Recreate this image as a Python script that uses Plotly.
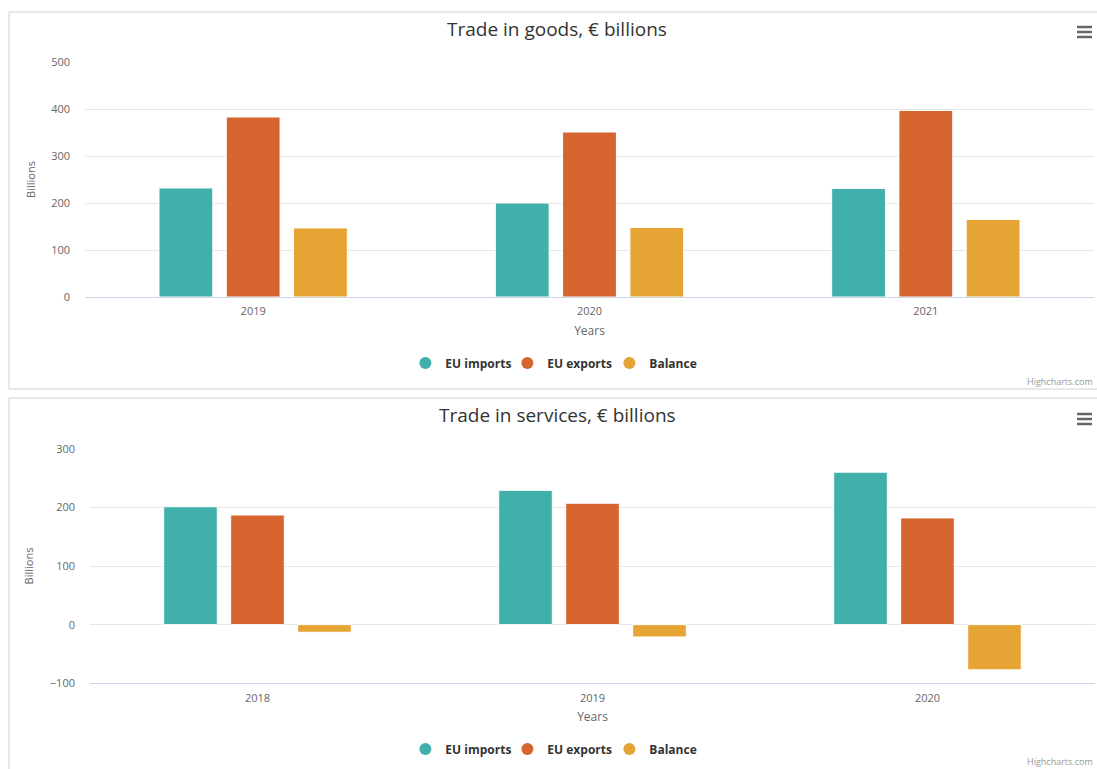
import plotly.graph_objects as go

# ---- data ----
series_names = ["EU imports", "EU exports", "Balance"]
series_colors = ["#41B0AA", "#D6642E", "#E6A434"]

goods_years = ["2019", "2020", "2021"]
goods_imports = [232, 200, 231]
goods_exports = [383, 351, 397]
goods_balance = [147, 148, 165]

services_years = ["2018", "2019", "2020"]
services_imports = [201, 229, 260]
services_exports = [187, 207, 182]
services_balance = [-13, -21, -77]

goods_title = "Trade in goods, € billions"
services_title = "Trade in services, € billions"
y_title = "Billions"
x_title = "Years"
credit = "Highcharts.com"

W, H = 1097, 769
FONT = "Open Sans"


def px(x):
    return x / W


def py(y):
    return 1 - y / H


fig = go.Figure()

goods = [goods_imports, goods_exports, goods_balance]
services = [services_imports, services_exports, services_balance]

for name, color, vals in zip(series_names, series_colors, goods):
    fig.add_trace(go.Bar(x=goods_years, y=vals, name=name, marker_color=color,
                         marker_line_color="white", marker_line_width=1,
                         xaxis="x", yaxis="y", showlegend=False))
for name, color, vals in zip(series_names, series_colors, services):
    fig.add_trace(go.Bar(x=services_years, y=vals, name=name, marker_color=color,
                         marker_line_color="white", marker_line_width=1,
                         xaxis="x2", yaxis="y2", showlegend=False))

# legend entries with round symbols
for lg in ["legend", "legend2"]:
    for name, color in zip(series_names, series_colors):
        fig.add_trace(go.Scatter(x=[None], y=[None], mode="markers", name=name,
                                 marker=dict(color=color, size=12, symbol="circle"),
                                 legend=lg, showlegend=True,
                                 xaxis="x" if lg == "legend" else "x2",
                                 yaxis="y" if lg == "legend" else "y2"))

axis_common_x = dict(showgrid=False, showline=True, linecolor="#ccd6eb", linewidth=1,
                     ticks="", tickfont=dict(family=FONT, size=11, color="#666666"),
                     ticklabelstandoff=4,
                     fixedrange=True, automargin=False,
                     title_font=dict(family=FONT, size=12, color="#666666"))
axis_common_y = dict(showgrid=True, gridcolor="#e6e6e6", gridwidth=1, zeroline=False,
                     showline=False, ticks="", dtick=100,
                     tickfont=dict(family=FONT, size=11, color="#666666"),
                     ticklabelstandoff=14, automargin=False,
                     title_font=dict(family=FONT, size=11, color="#666666"))

legend_common = dict(orientation="h", xanchor="center", yanchor="middle",
                     font=dict(family=FONT, size=12, color="#333333", weight="bold"),
                     itemwidth=30, entrywidth=57, bgcolor="rgba(0,0,0,0)",
                     itemclick=False, itemdoubleclick=False)

fig.update_layout(
    width=W, height=H,
    margin=dict(l=0, r=0, t=0, b=0),
    paper_bgcolor="white", plot_bgcolor="white",
    barmode="group", bargap=0.4, bargroupgap=0.2,
    xaxis=dict(domain=[px(85), px(1094)], anchor="y", type="category",
               title=dict(text=x_title, standoff=9), **axis_common_x),
    yaxis=dict(domain=[py(297), py(62)], anchor="x", range=[0, 500],
               title=dict(text=y_title, standoff=13), **axis_common_y),
    xaxis2=dict(domain=[px(90), px(1095)], anchor="y2", type="category",
                title=dict(text=x_title, standoff=9), **axis_common_x),
    yaxis2=dict(domain=[py(683.3), py(448.7)], anchor="x2", range=[-100, 300],
                title=dict(text=y_title, standoff=13), **axis_common_y),
    legend=dict(x=0.509, y=py(363), **legend_common),
    legend2=dict(x=0.509, y=py(749), **legend_common),
    shapes=[
        dict(type="rect", xref="paper", yref="paper", x0=px(9), x1=1.02,
             y0=py(389), y1=py(12), line=dict(color="#d0d0d0", width=1),
             fillcolor="rgba(0,0,0,0)", layer="below"),
        dict(type="rect", xref="paper", yref="paper", x0=px(9), x1=1.02,
             y0=-0.05, y1=py(398), line=dict(color="#d0d0d0", width=1),
             fillcolor="rgba(0,0,0,0)", layer="below"),
    ],
    annotations=[
        dict(text=goods_title, xref="paper", yref="paper", x=px(557), y=py(29),
             xanchor="center", yanchor="middle", showarrow=False,
             font=dict(family=FONT, size=19, color="#333333")),
        dict(text=services_title, xref="paper", yref="paper", x=px(557), y=py(415),
             xanchor="center", yanchor="middle", showarrow=False,
             font=dict(family=FONT, size=19, color="#333333")),
        dict(text=credit, xref="paper", yref="paper", x=px(1095), y=py(381),
             xanchor="right", yanchor="middle", showarrow=False,
             font=dict(family=FONT, size=9, color="#999999")),
        dict(text=credit, xref="paper", yref="paper", x=px(1095), y=py(761),
             xanchor="right", yanchor="middle", showarrow=False,
             font=dict(family=FONT, size=9, color="#999999")),
    ],
)

# hamburger menu icons
for cy in (32, 419):
    for dy in (-5, 0, 5):
        fig.add_shape(type="line", xref="paper", yref="paper",
                      x0=px(1077), x1=px(1092), y0=py(cy + dy), y1=py(cy + dy),
                      line=dict(color="#666666", width=2.5))

fig.write_html("out.html", config={"displayModeBar": False},
               post_script="document.body.style.margin='0';"
                           "document.body.style.overflow='hidden';")
